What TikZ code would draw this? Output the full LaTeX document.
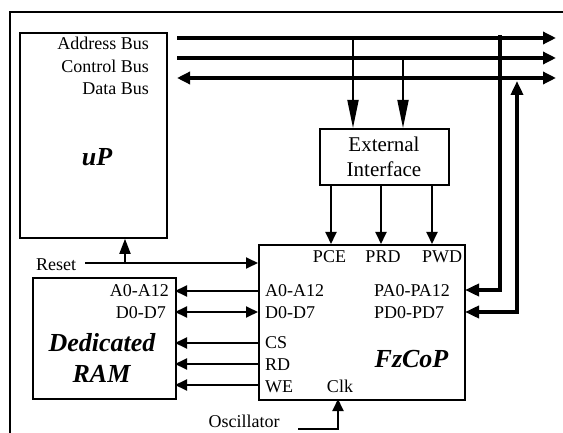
\documentclass[tikz,border=0pt]{standalone}
\usepackage{fontspec}
\setmainfont{Liberation Serif}
\usetikzlibrary{arrows.meta}
\begin{document}
\begin{tikzpicture}[x=1pt,y=-1pt,
  box/.style={draw, line width=1.8pt, inner sep=0pt, anchor=north west},
  lbl/.style={inner sep=0pt, font=\fontsize{18}{22}\selectfont},
  eil/.style={inner sep=0pt, font=\fontsize{21}{25}\selectfont},
  big/.style={inner sep=0pt, font=\fontsize{26}{30}\selectfont\bfseries\itshape},
  bus/.style={line width=4.5pt},
  fat/.style={line width=4.5pt, line join=miter},
  thin/.style={line width=1.8pt},
  btip/.style={-{Triangle[length=13pt,width=12pt]}},
  bbtip/.style={{Triangle[length=13pt,width=12pt]}-{Triangle[length=13pt,width=12pt]}},
  ltip/.style={-{Triangle[length=28pt,width=11pt]}},
  stip/.style={-{Triangle[length=12pt,width=11pt]}},
  sstip/.style={{Triangle[length=12pt,width=11pt]}-{Triangle[length=12pt,width=11pt]}},
  ftip/.style={-{Triangle[length=14pt,width=12pt]}},
  fftip/.style={{Triangle[length=14pt,width=12pt]}-{Triangle[length=14pt,width=12pt]}}
]
\useasboundingbox (0,0) rectangle (563,433);
% outer frame
\coordinate (fbl) at (10,433);
\coordinate (ftl) at (10,12);
\coordinate (ftr) at (563,12);
\draw[line width=2pt, line join=miter] (fbl) -- (ftl) -- (ftr);

% boxes
\node[box, minimum width=147pt, minimum height=205pt] (up) at (19,32) {};
\node[box, minimum width=129pt, minimum height=56pt] (ei) at (319,128) {};
\node[box, minimum width=206pt, minimum height=155pt] (fz) at (258,244) {};
\node[box, minimum width=143pt, minimum height=121pt] (ram) at (32,277) {};

% uP texts
\node[lbl, anchor=base east] (tab) at (149,50) {Address Bus};
\node[lbl, anchor=base east] (tcb) at (149,72.5) {Control Bus};
\node[lbl, anchor=base east] (tdb) at (149,95) {Data Bus};
\node[big, anchor=base] (tup) at (97,166) {uP};

% External interface texts
\node[eil, anchor=base] (te1) at (384,152) {External};
\node[eil, anchor=base] (te2) at (384,177) {Interface};

% FzCoP texts
\node[lbl, anchor=base] (tpce) at (329.5,263) {PCE};
\node[lbl, anchor=base] (tprd) at (383,263) {PRD};
\node[lbl, anchor=base] (tpwd) at (442,263) {PWD};
\node[lbl, anchor=base west] (tfa) at (265,297) {A0-A12};
\node[lbl, anchor=base west] (tfd) at (265,319) {D0-D7};
\node[lbl, anchor=base west] (tcs) at (265,348) {CS};
\node[lbl, anchor=base west] (trd) at (265,370) {RD};
\node[lbl, anchor=base west] (twe) at (265,392) {WE};
\node[lbl, anchor=base] (tclk) at (340,392) {Clk};
\node[lbl, anchor=base west] (tpa) at (374,297) {PA0-PA12};
\node[lbl, anchor=base west] (tpd) at (374,319) {PD0-PD7};
\node[big, anchor=base] (tfz) at (411.5,367) {FzCoP};

% RAM texts
\node[lbl, anchor=base east] (tra) at (169,297) {A0-A12};
\node[lbl, anchor=base east] (trdd) at (166,319) {D0-D7};
\node[big, anchor=base] (tded) at (102,351) {Dedicated};
\node[big, anchor=base] (tram) at (101.5,382) {RAM};

% other labels
\node[lbl, anchor=base west] (trst) at (36,270) {Reset};
\node[lbl, anchor=base] (tosc) at (244,427) {Oscillator};

% buses
\coordinate (ab0) at (177,38);   \coordinate (ab1) at (556,38);
\coordinate (cb0) at (177,58);   \coordinate (cb1) at (556,58);
\coordinate (db0) at (177,78); \coordinate (db1) at (556,78);
\draw[bus, btip] (ab0) -- (ab1);
\draw[bus, btip] (cb0) -- (cb1);
\draw[bus, bbtip] (db0) -- (db1);

% bus -> external interface
\coordinate (br1) at (353,38);
\coordinate (br2) at (403,58);
\draw[thin, ltip] (br1) -- (br1 |- ei.north);
\draw[thin, ltip] (br2) -- (br2 |- ei.north);

% external interface -> FzCoP
\coordinate (p1) at (331,244);
\coordinate (p2) at (381,244);
\coordinate (p3) at (432,244);
\draw[thin, stip] (p1 |- ei.south) -- (p1);
\draw[thin, stip] (p2 |- ei.south) -- (p2);
\draw[thin, stip] (p3 |- ei.south) -- (p3);

% right side thick connections
\coordinate (v1) at (500,35.5);
\coordinate (pa) at (465,290);
\draw[fat, ftip] (v1) |- (pa);
\coordinate (v2) at (517,81);
\coordinate (pd) at (465,312);
\draw[fat, fftip] (pd) -| (v2);

% RAM <-> FzCoP
\coordinate (ra) at (175,291);
\coordinate (rd) at (175,312);
\coordinate (rc) at (175,343);
\coordinate (rr) at (175,364);
\coordinate (rw) at (175,385);
\draw[thin, stip] (ra -| fz.west) -- (ra);
\draw[thin, sstip] (rd -| fz.west) -- (rd);
\draw[thin, stip] (rc -| fz.west) -- (rc);
\draw[thin, stip] (rr -| fz.west) -- (rr);
\draw[thin, stip] (rw -| fz.west) -- (rw);

% Reset
\coordinate (rs0) at (85,263);
\coordinate (rb) at (125,263);
\draw[thin, stip] (rs0) -- (rs0 -| fz.west);
\draw[thin, -{Triangle[length=15pt,width=11pt]}] (rb) -- (rb |- up.south);

% Oscillator
\coordinate (os0) at (298,429);
\coordinate (clk) at (338,399);
\draw[thin, stip] (os0) -| (clk);
\end{tikzpicture}
\end{document}
